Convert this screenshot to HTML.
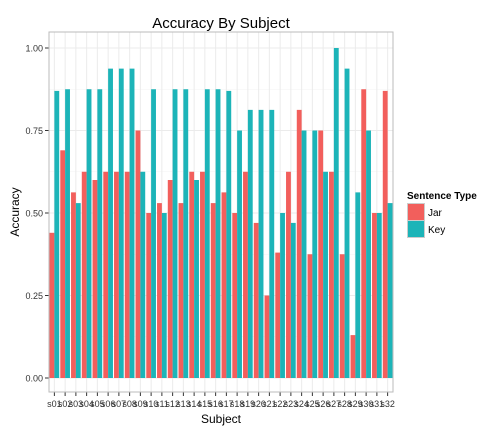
<!DOCTYPE html>
<html><head><meta charset="utf-8"><style>
body{margin:0;background:#fff;font-family:"Liberation Sans",sans-serif}
</style></head><body>
<svg id="c" width="504" height="432" xmlns="http://www.w3.org/2000/svg" font-family="Liberation Sans, sans-serif">
<text x="221" y="28" font-size="15" text-anchor="middle">Accuracy By Subject</text>
<text transform="translate(19,212) rotate(-90)" font-size="12" text-anchor="middle">Accuracy</text>
<text x="221" y="423" font-size="12" text-anchor="middle">Subject</text>
<g id="grid"></g><g id="bars"></g><g id="axes"></g>
<g>
<text x="407" y="199" font-size="10" font-weight="bold">Sentence Type</text>
<rect x="407.5" y="203.5" width="17" height="17" fill="#F25F5C" stroke="#ccc"/>
<text x="428" y="216" font-size="10">Jar</text>
<rect x="407.5" y="220.5" width="17" height="17" fill="#1CB4B8" stroke="#ccc"/>
<text x="428" y="233" font-size="10">Key</text>
</g>
</svg>
<script>
const categories=["s01","s02","s03","s04","s05","s06","s07","s08","s09","s10","s11","s12","s13","s14","s15","s16","s17","s18","s19","s20","s21","s22","s23","s24","s25","s26","s27","s28","s29","s30","s31","s32"];
const jarValues=[0.44,0.69,0.5625,0.625,0.6,0.625,0.625,0.625,0.75,0.5,0.53,0.6,0.53,0.625,0.625,0.53,0.5625,0.5,0.625,0.47,0.25,0.38,0.625,0.8125,0.375,0.75,0.625,0.375,0.13,0.875,0.5,0.87];
const keyValues=[0.87,0.875,0.53,0.875,0.875,0.9375,0.9375,0.9375,0.625,0.875,0.5,0.875,0.875,0.6,0.875,0.875,0.87,0.75,0.8125,0.8125,0.8125,0.5,0.47,0.75,0.75,0.625,1.0,0.9375,0.5625,0.75,0.5,0.53];
const yTicks=[0,0.25,0.5,0.75,1.0];
const yTickLabels=["0.00","0.25","0.50","0.75","1.00"];
const NS="http://www.w3.org/2000/svg";
const L=49,R=393,T=32,B=392;
const band=(R-L)/categories.length;
const x=i=>L+band*(i+0.5);
const y=v=>378-330*v;
function mk(t,a,p){const e=document.createElementNS(NS,t);for(const k in a)e.setAttribute(k,a[k]);p.appendChild(e);return e;}
const grid=document.getElementById('grid'),bars=document.getElementById('bars'),axes=document.getElementById('axes');
mk('rect',{x:L,y:T,width:R-L,height:B-T,fill:'#fff',stroke:'none'},grid);
for(let i=0;i<4;i++){const v=0.125+0.25*i;mk('line',{x1:L,x2:R,y1:y(v),y2:y(v),stroke:'#f3f3f3','stroke-width':0.5},grid);}
yTicks.forEach((v,i)=>{
 const g=mk('line',{x1:L,x2:R,y1:y(v),y2:y(v),stroke:'#ebebeb','stroke-width':1},grid);
 
 mk('line',{x1:L-4,x2:L,y1:y(v),y2:y(v),stroke:'#333'},axes);
 const t=mk('text',{x:L-6,y:y(v)+3.5,'font-size':9,'text-anchor':'end',fill:'#333'},axes);t.textContent=yTickLabels[i];
 
});
const bw=band*0.9/2;
categories.forEach((c,i)=>{
 mk('line',{x1:x(i),x2:x(i),y1:T,y2:B,stroke:'#ebebeb','stroke-width':1},grid);
 const a=mk('rect',{x:x(i)-bw,y:y(jarValues[i]),width:bw,height:y(0)-y(jarValues[i]),fill:'#F25F5C'},bars);
 
 const b=mk('rect',{x:x(i),y:y(keyValues[i]),width:bw,height:y(0)-y(keyValues[i]),fill:'#1CB4B8'},bars);
 
 mk('line',{x1:x(i),x2:x(i),y1:B,y2:B+4,stroke:'#333'},axes);
 const t=mk('text',{x:x(i),y:B+15,'font-size':9,'text-anchor':'middle',fill:'#333'},axes);t.textContent=c;
 
});
mk('rect',{x:L,y:T,width:R-L,height:B-T,fill:'none',stroke:'#bbb','stroke-width':1},axes);
</script>
</body></html>
